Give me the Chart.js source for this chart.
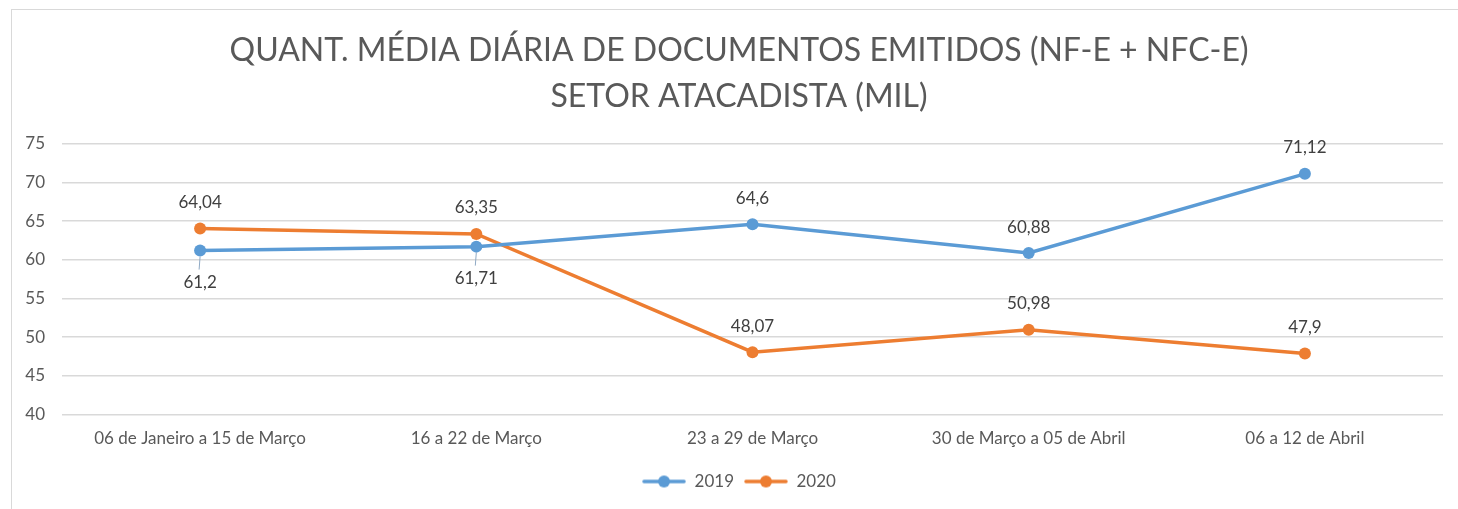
<!DOCTYPE html>
<html>
<head>
<meta charset="utf-8">
<script src="https://cdn.jsdelivr.net/npm/chart.js@4.4.1/dist/chart.umd.min.js"></script>
<style>
    body { margin: 0; background: #fff; }
    #moldura { position: absolute; left: 0; top: 0; width: 1458px; height: 509px; }
    #borda { position: absolute; left: 11px; top: 9px; width: 1460px; height: 520px;
             border-left: 1px solid #d9d9d9; border-top: 1px solid #d9d9d9; }
</style>
</head>
<body>
<div id="borda"></div>
<div id="moldura"><canvas id="chart1" width="1458" height="509"></canvas></div>
<script>
var categorias = ['06 de Janeiro a 15 de Março', '16 a 22 de Março', '23 a 29 de Março', '30 de Março a 05 de Abril', '06 a 12 de Abril'];
var valores2019 = [61.2, 61.71, 64.6, 60.88, 71.12];
var valores2020 = [64.04, 63.35, 48.07, 50.98, 47.9];
var titulo = ['QUANT. MÉDIA DIÁRIA DE DOCUMENTOS EMITIDOS (NF-E + NFC-E)', 'SETOR ATACADISTA (MIL)'];

var fonte = 'Lato';
var corTexto = '#595959';
var azul = '#5B9BD5';
var laranja = '#ED7D31';

// posição dos rótulos de cada série (acima / abaixo do ponto)
var posRotulos = {
    0: ['below', 'below', 'above', 'above', 'above'],
    1: ['above', 'above', 'above', 'above', 'above']
};

function iconeLegenda(cor) {
    var c = document.createElement('canvas');
    c.width = 44; c.height = 14;
    var ctx = c.getContext('2d');
    ctx.strokeStyle = cor;
    ctx.lineWidth = 3.5;
    ctx.lineCap = 'round';
    ctx.beginPath(); ctx.moveTo(2, 7); ctx.lineTo(42, 7); ctx.stroke();
    ctx.fillStyle = cor;
    ctx.beginPath(); ctx.arc(22, 7, 6, 0, Math.PI * 2); ctx.fill();
    return c;
}

// deixa os números do eixo Y saírem para a esquerda da área do eixo
var eixoPlugin = {
    id: 'eixoY',
    afterLayout: function (chart) {
        chart.scales.y.left = 12;
    }
};

var rotulosPlugin = {
    id: 'rotulos',
    afterDatasetsDraw: function (chart) {
        var ctx = chart.ctx;
        ctx.save();
        ctx.font = '17px ' + fonte;
        ctx.fillStyle = '#404040';
        ctx.textAlign = 'center';
        ctx.textBaseline = 'middle';
        chart.data.datasets.forEach(function (ds, i) {
            var meta = chart.getDatasetMeta(i);
            meta.data.forEach(function (pt, j) {
                var texto = String(ds.data[j]).replace('.', ',');
                if (posRotulos[i][j] === 'below') {
                    ctx.strokeStyle = '#8fa9c4';
                    ctx.lineWidth = 1;
                    ctx.beginPath();
                    ctx.moveTo(pt.x, pt.y + 6);
                    ctx.lineTo(pt.x - 1, pt.y + 19);
                    ctx.stroke();
                    ctx.fillText(texto, pt.x, pt.y + 32);
                } else {
                    ctx.fillText(texto, pt.x, pt.y - 26);
                }
            });
        });
        ctx.restore();
    }
};

var ctx1 = document.getElementById('chart1').getContext('2d');
var chart1 = new Chart(ctx1, {
    type: 'line',
    data: {
        labels: categorias,
        datasets: [{
            label: '2019',
            data: valores2019,
            borderColor: azul,
            backgroundColor: azul,
            borderWidth: 3.5,
            pointRadius: 6,
            pointBorderWidth: 0,
            tension: 0
        }, {
            label: '2020',
            data: valores2020,
            borderColor: laranja,
            backgroundColor: laranja,
            borderWidth: 3.5,
            pointRadius: 6,
            pointBorderWidth: 0,
            tension: 0
        }]
    },
    options: {
        responsive: false,
        animation: false,
        layout: { padding: { left: 35, right: 15, top: 0, bottom: 9 } },
        plugins: {
            title: {
                display: true,
                text: titulo,
                color: corTexto,
                font: { family: fonte, size: 32, weight: 'normal', lineHeight: 1.45 },
                padding: { top: 27, bottom: 24 }
            },
            legend: {
                position: 'bottom',
                labels: {
                    usePointStyle: true,
                    pointStyleWidth: 44,
                    color: corTexto,
                    font: { family: fonte, size: 17 },
                    padding: 10,
                    generateLabels: function (chart) {
                        return chart.data.datasets.map(function (ds, i) {
                            return {
                                text: ds.label,
                                pointStyle: iconeLegenda(ds.borderColor),
                                fillStyle: ds.borderColor,
                                strokeStyle: ds.borderColor,
                                lineWidth: 0,
                                fontColor: corTexto,
                                datasetIndex: i
                            };
                        });
                    }
                }
            },
            tooltip: { enabled: false }
        },
        scales: {
            x: {
                offset: true,
                grid: { display: false, drawTicks: false },
                border: { display: false },
                ticks: { color: corTexto, font: { family: fonte, size: 17 }, padding: 14, maxRotation: 0 }
            },
            y: {
                min: 40,
                max: 75,
                afterFit: function (axis) { axis.width = 27; },
                grid: { color: '#d9d9d9', lineWidth: 1.5, drawTicks: false },
                border: { display: false },
                ticks: { stepSize: 5, color: corTexto, font: { family: fonte, size: 17 }, padding: 17 }
            }
        }
    },
    plugins: [rotulosPlugin, eixoPlugin]
});
</script>
</body>
</html>
